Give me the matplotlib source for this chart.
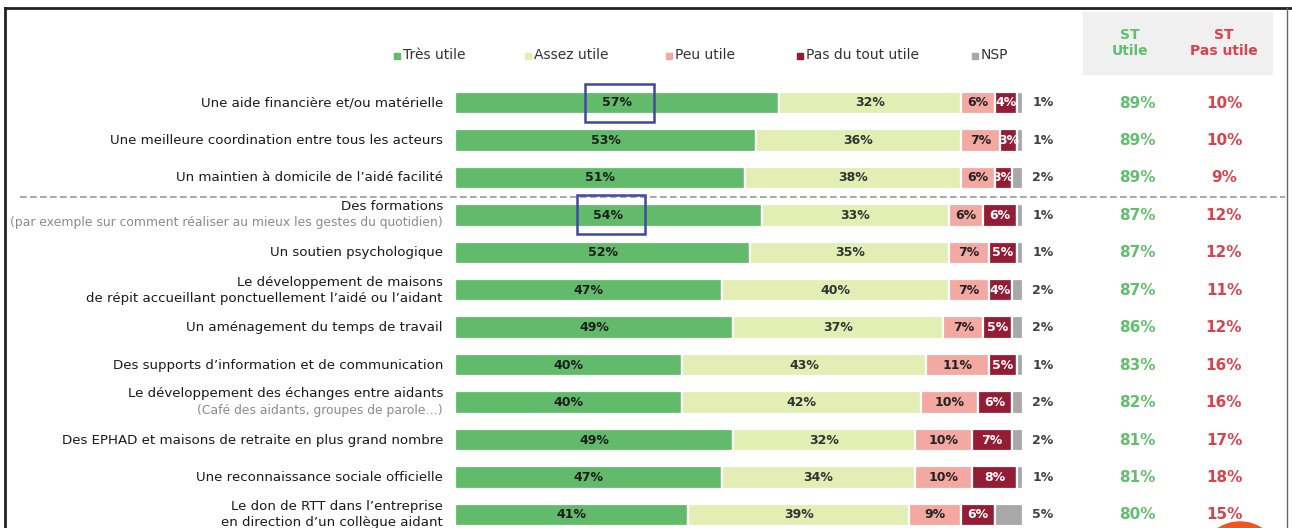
import matplotlib
matplotlib.use("Agg")
import matplotlib.pyplot as plt
from matplotlib.patches import Rectangle, Ellipse
from matplotlib.lines import Line2D

labels = [
    "Une aide financière et/ou matérielle",
    "Une meilleure coordination entre tous les acteurs",
    "Un maintien à domicile de l’aidé facilité",
    "Des formations",
    "Un soutien psychologique",
    "Le développement de maisons\nde répit accueillant ponctuellement l’aidé ou l’aidant",
    "Un aménagement du temps de travail",
    "Des supports d’information et de communication",
    "Le développement des échanges entre aidants",
    "Des EPHAD et maisons de retraite en plus grand nombre",
    "Une reconnaissance sociale officielle",
    "Le don de RTT dans l’entreprise\nen direction d’un collègue aidant",
]
sublabels = {3: "(par exemple sur comment réaliser au mieux les gestes du quotidien)",
             8: "(Café des aidants, groupes de parole…)"}

tres_utile = [57, 53, 51, 54, 52, 47, 49, 40, 40, 49, 47, 41]
assez_utile = [32, 36, 38, 33, 35, 40, 37, 43, 42, 32, 34, 39]
peu_utile = [6, 7, 6, 6, 7, 7, 7, 11, 10, 10, 10, 9]
pas_utile = [4, 3, 3, 6, 5, 4, 5, 5, 6, 7, 8, 6]
nsp = [1, 1, 2, 1, 1, 2, 2, 1, 2, 2, 1, 5]
st_utile = [89, 89, 89, 87, 87, 87, 86, 83, 82, 81, 81, 80]
st_pas_utile = [10, 10, 9, 12, 12, 11, 12, 16, 16, 17, 18, 15]

series_names = ["Très utile", "Assez utile", "Peu utile", "Pas du tout utile", "NSP"]
colors = ["#62bb6a", "#e3eeb4", "#f3a8a1", "#951c35", "#a8a8a8"]
text_colors = ["#1e1e1e", "#333333", "#222222", "#ffffff", None]

W, H = 1292, 528
X0, SX = 455, 5.68      # pixel of 0 %, pixels per %
Y0, SY = 103, 37.45     # pixel of first row, pixels per row


def px(x):
    return (x - X0) / SX


def py(y):
    return (y - Y0) / SY


fig = plt.figure(figsize=(W / 100, H / 100), dpi=100)
ax = fig.add_axes([0, 0, 1, 1])
ax.set_xlim(px(0), px(W))
ax.set_ylim(py(H), py(0))
ax.axis("off")

rows = list(range(len(labels)))
data = [tres_utile, assez_utile, peu_utile, pas_utile, nsp]
left = [0] * len(rows)
for k, vals in enumerate(data):
    ax.barh(rows, vals, left=left, height=0.6, color=colors[k],
            edgecolor="white", linewidth=1.6)
    if text_colors[k] is not None:
        for i, v in enumerate(vals):
            ax.text(left[i] + v / 2, i, f"{v}%", ha="center", va="center",
                    fontsize=9, fontweight="bold", color=text_colors[k])
    left = [l + v for l, v in zip(left, vals)]

# NSP values, ST columns
for i in rows:
    ax.text(px(1043), i, f"{nsp[i]}%", ha="center", va="center",
            fontsize=9, fontweight="bold", color="#404040")
    ax.text(px(1137), i, f"{st_utile[i]}%", ha="center", va="center",
            fontsize=11, fontweight="bold", color="#62bf6e")
    ax.text(px(1224), i, f"{st_pas_utile[i]}%", ha="center", va="center",
            fontsize=11, fontweight="bold", color="#d9434c")

# category labels
for i, lab in enumerate(labels):
    if i in sublabels:
        ax.text(px(443), i - 0.23, lab, ha="right", va="center",
                fontsize=9.6, color="#1a1a1a")
        ax.text(px(443), i + 0.2, sublabels[i], ha="right", va="center",
                fontsize=8.9, color="#8a8a8a")
    else:
        ax.text(px(443), i, lab, ha="right", va="center", fontsize=9.6,
                color="#1a1a1a", linespacing=1.3)

# header box
ax.add_patch(Rectangle((px(1083), py(74)), px(1272) - px(1083), py(12) - py(74),
                       color="#f0f0f0", zorder=0))
ax.text(px(1130), py(43), "ST\nUtile", ha="center", va="center", fontsize=10,
        fontweight="bold", color="#62bf6e", linespacing=1.2)
ax.text(px(1224), py(43), "ST\nPas utile", ha="center", va="center",
        fontsize=10, fontweight="bold", color="#d9434c", linespacing=1.2)

# legend
leg_x = [397, 528, 669, 800, 975]
for k, name in enumerate(series_names):
    ax.scatter([px(leg_x[k])], [py(56)], marker="s", s=14, color=colors[k])
    ax.text(px(leg_x[k] + 6), py(55), name, ha="left", va="center",
            fontsize=10, color="#333333")

# dashed separator
ax.plot([px(20), px(1285)], [py(197), py(197)], ls=(0, (4, 2)), color="#9a9a9a",
        lw=1.2)

# highlight boxes
ax.add_patch(Rectangle((px(585), py(122)), px(654) - px(585), py(84) - py(122),
                       fill=False, edgecolor="#3f48a4", lw=1.8, zorder=5))
ax.add_patch(Rectangle((px(577), py(234)), px(645) - px(577), py(195) - py(234),
                       fill=False, edgecolor="#3f48a4", lw=1.8, zorder=5))

# orange bubble at bottom right
ax.add_patch(Ellipse((px(1240), py(562)), 80 / SX, 80 / SY, color="#f2541b",
                     zorder=6, clip_on=False))

# frame
fig.add_artist(Line2D([5 / W, 5 / W], [0, 1 - 8 / H], color="#222222", lw=2))
fig.add_artist(Line2D([5 / W, 1], [1 - 8 / H, 1 - 8 / H], color="#222222", lw=2))
fig.add_artist(Line2D([1287 / W, 1287 / W], [0, 1 - 8 / H], color="#666666", lw=1))

fig.savefig("out.png", dpi=100)
